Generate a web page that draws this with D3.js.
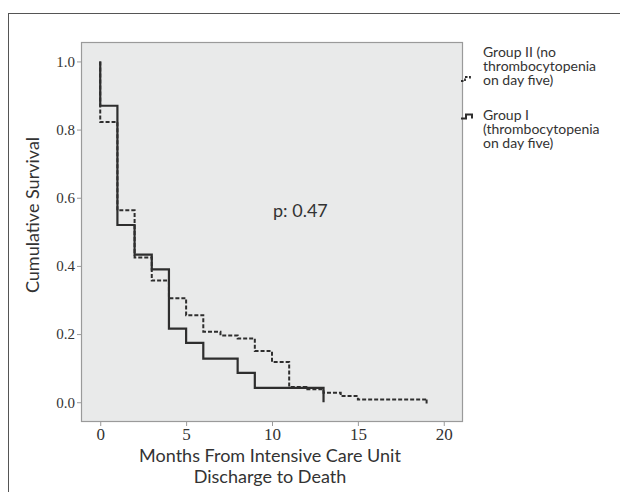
<!DOCTYPE html>
<html><head><meta charset="utf-8">
<script src="https://cdn.jsdelivr.net/npm/d3@7"></script>
<style>
html,body{margin:0;padding:0;background:#fff;}
svg{display:block;}
</style></head>
<body>
<svg id="c" width="620" height="492"></svg>
<script>
// ---- data ----
const xTicks = [0, 5, 10, 15, 20];
const yTicks = [0.0, 0.2, 0.4, 0.6, 0.8, 1.0];
const timesI = [0, 1, 2, 3, 4, 5, 6, 8, 9, 13];
const survI  = [0.87, 0.52, 0.433, 0.39, 0.216, 0.174, 0.128, 0.086, 0.042, 0.0];
const timesII = [0, 1, 2, 3, 4, 5, 6, 7, 8, 9, 10, 11, 12, 13, 14, 15];
const survII  = [0.822, 0.563, 0.425, 0.357, 0.305, 0.255, 0.207, 0.196, 0.187, 0.150, 0.118, 0.045, 0.038, 0.028, 0.018, 0.008];
const lastFollowUpII = 19;
const groupLabels = [
  ["Group II (no", "thrombocytopenia", "on day five)"],
  ["Group I", "(thrombocytopenia", "on day five)"]
];
const xTitle = ["Months From Intensive Care Unit", "Discharge to Death"];
const yTitle = "Cumulative Survival";
const pText = "p: 0.47";

const svg = d3.select("#c");
const SANS = "Lato, 'Open Sans', sans-serif";
const SERIF = "'Liberation Serif', 'DejaVu Serif', serif";
const ink = "#2e2e2e";

// outer frame
svg.append("rect").attr("x", 8.5).attr("y", 13.5).attr("width", 640).attr("height", 520)
  .attr("fill", "none").attr("stroke", "#555").attr("stroke-width", 1);

const L = 81, R = 463, T = 42, B = 422;
const x = d3.scaleLinear().domain([-1.12, 21.12]).range([L, R]);
const y = d3.scaleLinear().domain([-0.058, 1.057]).range([B, T]);

svg.append("rect").attr("x", L + 0.5).attr("y", T + 0.5).attr("width", R - L - 1).attr("height", B - T - 1)
  .attr("fill", "#e9eaea").attr("stroke", "#9a9a9a").attr("stroke-width", 1.2);

// axes
const xAxis = svg.append("g").attr("transform", `translate(0,${B})`)
  .call(d3.axisBottom(x).tickValues(xTicks).tickSize(4).tickPadding(2).tickFormat(d3.format("d")));
xAxis.select(".domain").remove();
xAxis.selectAll("line").attr("stroke", "#9a9a9a");
xAxis.selectAll("text").attr("font-family", SERIF).attr("font-size", 17).attr("fill", "#333");

const yAxis = svg.append("g").attr("transform", `translate(${L},0)`)
  .call(d3.axisLeft(y).tickValues(yTicks).tickSize(4).tickPadding(2).tickFormat(d3.format(".1f")));
yAxis.select(".domain").remove();
yAxis.selectAll("line").attr("stroke", "#9a9a9a");
yAxis.selectAll("text").attr("font-family", SERIF).attr("font-size", 15).attr("fill", "#333");

// curves
const step = d3.line().x(d => x(d[0])).y(d => y(d[1])).curve(d3.curveStepAfter);
const ptsI = [[0, 1.0]].concat(timesI.map((t, i) => [t, survI[i]]));
const ptsII = [[0, 1.0]].concat(timesII.map((t, i) => [t, survII[i]]));
ptsII.push([lastFollowUpII, survII[survII.length - 1]]);

svg.append("path").attr("d", step(ptsII)).attr("fill", "none").attr("stroke", ink)
  .attr("stroke-width", 2).attr("stroke-dasharray", "4,2");
// censor tick at end of group II
svg.append("line")
  .attr("x1", x(lastFollowUpII)).attr("x2", x(lastFollowUpII))
  .attr("y1", y(survII[survII.length - 1])).attr("y2", y(survII[survII.length - 1]) + 4)
  .attr("stroke", ink).attr("stroke-width", 2);
svg.append("path").attr("d", step(ptsI)).attr("fill", "none").attr("stroke", ink)
  .attr("stroke-width", 2.2);

// p text
svg.append("text").attr("x", 273).attr("y", 217).attr("font-family", SANS).attr("font-size", 18)
  .attr("fill", "#333").text(pText);

// axis titles
const xt = svg.append("text").attr("font-family", SANS).attr("font-size", 18).attr("fill", "#333")
  .attr("text-anchor", "middle");
xt.selectAll("tspan").data(xTitle).join("tspan").attr("x", 270)
  .attr("y", (d, i) => 462 + i * 21).text(d => d);
svg.append("text").attr("transform", "translate(39,215) rotate(-90)").attr("text-anchor", "middle")
  .attr("font-family", SANS).attr("font-size", 18).attr("fill", "#333").text(yTitle);

// legend
const legY = [57, 120];
const leg = svg.append("g");
leg.append("path").attr("d", "M461,81 H465 V77 H470 V80").attr("fill", "none").attr("stroke", ink)
  .attr("stroke-width", 1.8).attr("stroke-dasharray", "2.5,1.5");
leg.append("path").attr("d", "M461,118.5 H466 V114.5 H472 V118.5").attr("fill", "none").attr("stroke", ink)
  .attr("stroke-width", 2);
groupLabels.forEach((lines, gi) => {
  const t = leg.append("text").attr("font-family", SANS).attr("font-size", 14).attr("fill", "#333");
  t.selectAll("tspan").data(lines).join("tspan").attr("x", 483)
    .attr("y", (d, i) => legY[gi] + i * 14).text(d => d);
});
</script>
</body></html>
